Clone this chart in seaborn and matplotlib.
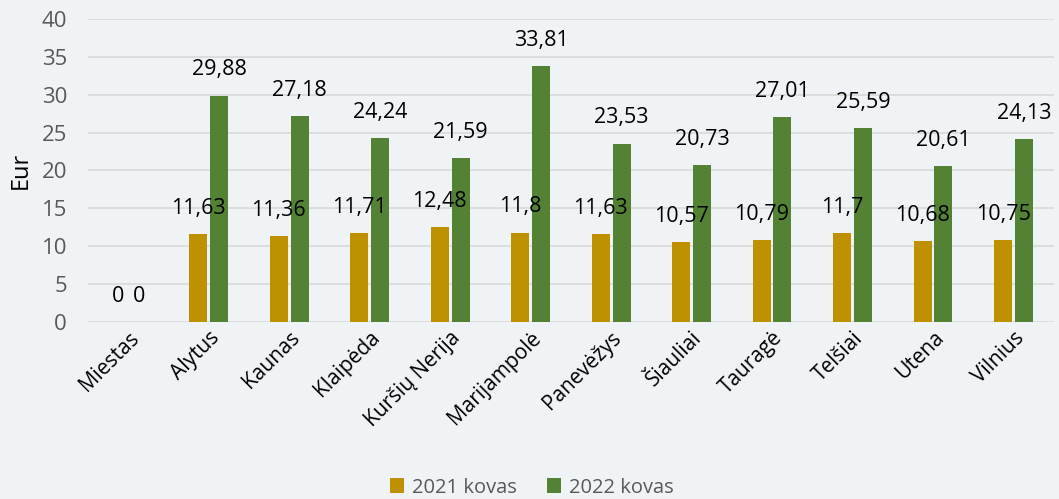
import pandas as pd
import matplotlib.pyplot as plt
import seaborn as sns

# Data
miestai = ['Miestas', 'Alytus', 'Kaunas', 'Klaipėda', 'Kuršių Nerija', 'Marijampolė',
           'Panevėžys', 'Šiauliai', 'Tauragė', 'Telšiai', 'Utena', 'Vilnius']
kovas_2021 = [0, 11.63, 11.36, 11.71, 12.48, 11.8, 11.63, 10.57, 10.79, 11.7, 10.68, 10.75]
kovas_2022 = [0, 29.88, 27.18, 24.24, 21.59, 33.81, 23.53, 20.73, 27.01, 25.59, 20.61, 24.13]
serijos = ['2021 kovas', '2022 kovas']
spalvos = ['#BF9000', '#548235']

data = pd.DataFrame({
    'Miestas': miestai * 2,
    'Eur': kovas_2021 + kovas_2022,
    'Laikotarpis': [serijos[0]] * len(miestai) + [serijos[1]] * len(miestai),
})

bg = '#F0F3F6'
sns.set_style('white')
plt.rcParams['font.family'] = ['Open Sans', 'DejaVu Sans']

fig = plt.figure(figsize=(10.59, 4.99), dpi=100, facecolor=bg)
ax = fig.add_axes([0.083, 0.355, 0.912, 0.607])
ax.set_facecolor(bg)

sns.barplot(data=data, x='Miestas', y='Eur', hue='Laikotarpis', palette=spalvos,
            saturation=1, width=0.52, gap=0.14, linewidth=0, ax=ax, legend=True)

# value labels, comma decimal
for cont in ax.containers:
    labels = [f'{v:g}'.replace('.', ',') for v in cont.datavalues]
    ax.bar_label(cont, labels=labels, padding=11, fontsize=15.5, color='black')

ax.set_ylim(0, 40)
ax.set_yticks(range(0, 41, 5))
ax.yaxis.grid(True, color='#D9D9D9', linewidth=1.2)
ax.set_axisbelow(True)
sns.despine(ax=ax, left=True, bottom=True)
ax.tick_params(axis='y', colors='#595959', labelsize=16, length=0, pad=15)
ax.tick_params(axis='x', colors='black', labelsize=15, length=0, pad=4)
plt.setp(ax.get_xticklabels(), rotation=45, ha='right', rotation_mode='anchor')
ax.set_xlabel('')
ax.set_ylabel('Eur', fontsize=17, color='black', labelpad=6)

leg = ax.legend(loc='lower center', bbox_to_anchor=(0.46, -0.64), ncol=2, frameon=False,
                fontsize=14.5, handlelength=0.7, handleheight=0.7, columnspacing=1.5,
                handletextpad=0.4)
for t in leg.get_texts():
    t.set_color('#595959')

fig.savefig('out.png', dpi=100, facecolor=bg)
